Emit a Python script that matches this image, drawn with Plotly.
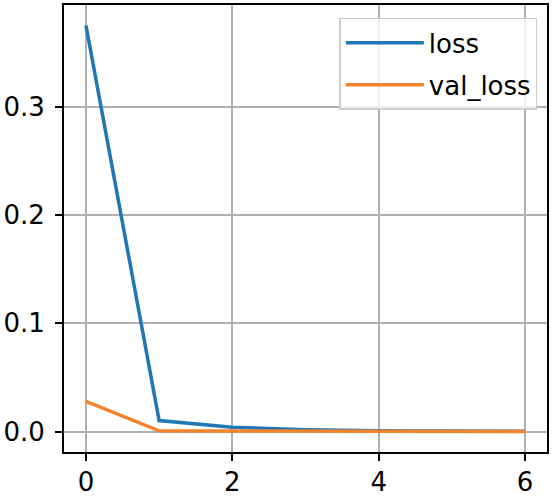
import plotly.graph_objects as go

epochs = [0, 1, 2, 3, 4, 5, 6]
loss = [0.375, 0.0102, 0.0040, 0.0018, 0.0009, 0.0005, 0.0003]
val_loss = [0.028, 0.0008, 0.0005, 0.0004, 0.0003, 0.0002, 0.0002]
x_ticks = [0, 2, 4, 6]
y_ticks = [0.0, 0.1, 0.2, 0.3]
y_tick_text = ["0.0", "0.1", "0.2", "0.3"]

fig = go.Figure()
fig.add_trace(go.Scatter(x=epochs, y=loss, mode="lines", name="loss", legendgroup="a",
                         line=dict(color="#1f77b4", width=3.5)))
fig.add_trace(go.Scatter(x=epochs, y=val_loss, mode="lines", name="val_loss", legendgroup="b",
                         line=dict(color="#f2842c", width=3.5)))

axis_common = dict(showline=True, linecolor="black", linewidth=2, mirror=True,
                   showgrid=True, gridcolor="#b0b0b0", gridwidth=1.6,
                   ticks="outside", ticklen=7, tickwidth=2, tickcolor="black",
                   zeroline=False, automargin=False,
                   tickfont=dict(family="DejaVu Sans", size=26, color="black"))

fig.update_xaxes(range=[-0.3, 6.3], tickvals=x_ticks, ticktext=[str(v) for v in x_ticks],
                 ticklabelstandoff=-1, **axis_common)
fig.update_yaxes(range=[-0.0188, 0.3938], tickvals=y_ticks, ticktext=y_tick_text,
                 ticklabelstandoff=5, **axis_common)

fig.update_layout(
    width=553, height=497,
    margin=dict(l=64, r=6, t=5, b=45),
    plot_bgcolor="white", paper_bgcolor="white",
    font=dict(family="DejaVu Sans", size=26, color="black"),
    legend=dict(x=0.98, y=0.971, xanchor="right", yanchor="top",
                bgcolor="rgba(255,255,255,0.8)", bordercolor="#cccccc", borderwidth=1.5,
                font=dict(family="DejaVu Sans", size=26, color="black"),
                itemwidth=78, tracegroupgap=5, traceorder="grouped"),
    showlegend=True,
)

fig.write_html("out.html")
